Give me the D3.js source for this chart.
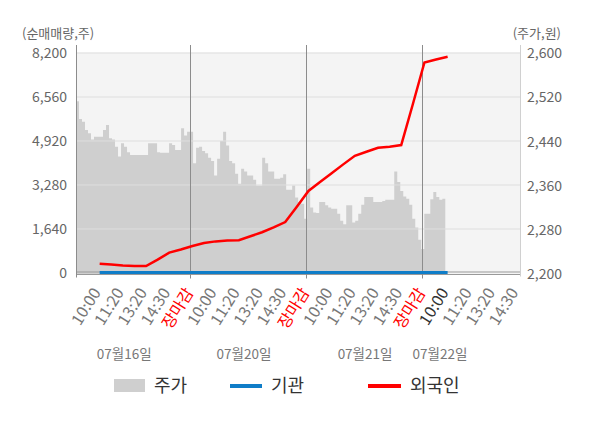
<!DOCTYPE html>
<html>
<head>
<meta charset="utf-8">
<script src="https://cdn.jsdelivr.net/npm/d3@7"></script>
<style>
  body { margin: 0; background: #fff; }
  text { font-family: "Noto Sans CJK KR", "Noto Sans", sans-serif; }
</style>
</head>
<body>
<div id="chart"></div>
<script>
// tick labels on the x axis, one per slot (slot 1 .. 19)
const timeLabels = [
  "10:00", "11:20", "13:20", "14:30", "장마감",
  "10:00", "11:20", "13:20", "14:30", "장마감",
  "10:00", "11:20", "13:20", "14:30", "장마감",
  "10:00", "11:20", "13:20", "14:30"
];
const currentLabel = 15;
const dayLabels = ["07월16일", "07월20일", "07월21일", "07월22일"];
const daySlots = [2.16, 7.32, 12.54, 15.77];
const dayBreaks = [5, 10, 15];

const leftTicks = [0, 1640, 3280, 4920, 6560, 8200];
const rightTicks = [2200, 2280, 2360, 2440, 2520, 2600];

// 주가 (won), evenly sampled from slot 0.08 to slot 16
const price = [
  2512, 2480, 2475, 2460, 2454, 2443, 2448, 2448, 2448, 2460,
  2469, 2445, 2443, 2430, 2412, 2436, 2430, 2420, 2415, 2415,
  2415, 2415, 2415, 2415, 2436, 2436, 2436, 2420, 2419, 2419,
  2419, 2436, 2433, 2424, 2424, 2463, 2450, 2457, 2457, 2400,
  2428, 2430, 2422, 2418, 2410, 2404, 2378, 2408, 2440, 2457,
  2432, 2404, 2400, 2381, 2363, 2390, 2385, 2378, 2378, 2370,
  2360, 2360, 2410, 2400, 2385, 2385, 2372, 2372, 2374, 2380,
  2352, 2352, 2360, 2338, 2330, 2327, 2300, 2390, 2320, 2311,
  2310, 2330, 2330, 2324, 2320, 2318, 2318, 2309, 2296, 2290,
  2324, 2324, 2293, 2296, 2309, 2325, 2339, 2339, 2339, 2330,
  2330, 2330, 2332, 2334, 2334, 2334, 2385, 2366, 2350, 2340,
  2336, 2325, 2300, 2284, 2262, 2245, 2309, 2309, 2335, 2348,
  2339, 2334, 2336, 2338
];
const priceStart = 0.08, priceEnd = 16;

// 순매매량 (shares), every half slot from slot 1.1 to 16.1
const foreign = [
  324, 300, 265, 240, 238, 480, 740, 857, 990, 1100,
  1160, 1190, 1204, 1350, 1500, 1680, 1880, 2450, 3040, 3370,
  3700, 4030, 4350, 4500, 4647, 4690, 4750, 6270, 7830, 7940,
  8040
];
const institution = [
  0, 0, 0, 0, 0, 0, 0, 0, 0, 0,
  0, 0, 0, 0, 0, 0, 0, 0, 0, 0,
  0, 0, 0, 0, 0, 0, 0, 0, 0, 0,
  0
];
const flowStart = 1.1, flowStep = 0.5;

const width = 600, height = 428;
const plotLeft = 76, plotRight = 520, plotTop = 52.5, plotBottom = 272.5;

const svg = d3.select("#chart").append("svg")
  .attr("width", width)
  .attr("height", height);

const x = d3.scaleLinear().domain([0.08, 19.22]).range([plotLeft, plotRight]);
const yL = d3.scaleLinear().domain([0, 8200]).range([plotBottom, plotTop]);
const yR = d3.scaleLinear().domain([2200, 2600]).range([plotBottom + 1.5, plotTop]);

svg.append("rect")
  .attr("x", plotLeft).attr("y", plotTop)
  .attr("width", plotRight - plotLeft).attr("height", plotBottom - plotTop + 1.5)
  .attr("fill", "#f4f4f4");

// price area
const priceSlot = i => priceStart + i * (priceEnd - priceStart) / (price.length - 1);
svg.append("path")
  .datum(price)
  .attr("fill", "#cfcfcf")
  .attr("d", d3.area()
    .curve(d3.curveStepAfter)
    .x((d, i) => x(priceSlot(i)))
    .y0(yR(2200))
    .y1(d => yR(d)));

// horizontal grid
svg.append("g")
  .selectAll("line")
  .data(leftTicks.slice(1))
  .join("line")
    .attr("x1", plotLeft).attr("x2", plotRight)
    .attr("y1", d => yL(d) + 0.5).attr("y2", d => yL(d) + 0.5)
    .attr("stroke", "#dedede");

svg.append("line")
  .attr("x1", plotLeft).attr("x2", plotRight)
  .attr("y1", yL(0) - 0.5).attr("y2", yL(0) - 0.5)
  .attr("stroke", "#999");
svg.append("line")
  .attr("x1", plotLeft).attr("x2", plotRight)
  .attr("y1", yR(2200) + 0.5).attr("y2", yR(2200) + 0.5)
  .attr("stroke", "#999");

// day separators
svg.append("g")
  .selectAll("line")
  .data(dayBreaks)
  .join("line")
    .attr("x1", d => Math.round(x(d)) + 0.5).attr("x2", d => Math.round(x(d)) + 0.5)
    .attr("y1", 45).attr("y2", plotBottom + 6)
    .attr("stroke", "#8c8c8c");

svg.append("line")
  .attr("x1", plotLeft + 0.5).attr("x2", plotLeft + 0.5)
  .attr("y1", 45).attr("y2", plotBottom + 5)
  .attr("stroke", "#8c8c8c");
svg.append("line")
  .attr("x1", plotRight + 0.5).attr("x2", plotRight + 0.5)
  .attr("y1", 45).attr("y2", plotBottom + 4)
  .attr("stroke", "#d0d0d0");

// flows
const flowLine = d3.line()
  .x((d, i) => x(flowStart + i * flowStep))
  .y(d => yL(d));

svg.append("path")
  .datum(institution)
  .attr("fill", "none")
  .attr("stroke", "#0f7dc8")
  .attr("stroke-width", 3)
  .attr("d", flowLine);

svg.append("path")
  .datum(foreign)
  .attr("fill", "none")
  .attr("stroke", "#ff0000")
  .attr("stroke-width", 2.5)
  .attr("d", flowLine);

// y axes labels
svg.append("g")
  .selectAll("text")
  .data(leftTicks)
  .join("text")
    .attr("x", 67)
    .attr("y", d => yL(d) + 1)
    .attr("dy", "0.35em")
    .attr("text-anchor", "end")
    .attr("font-size", 14)
    .attr("fill", "#666")
    .text(d => d3.format(",")(d));

svg.append("g")
  .selectAll("text")
  .data(rightTicks)
  .join("text")
    .attr("x", 527)
    .attr("y", d => yR(d) + 0.5)
    .attr("dy", "0.35em")
    .attr("font-size", 14)
    .attr("fill", "#666")
    .text(d => d3.format(",")(d));

svg.append("text")
  .attr("x", 22).attr("y", 38)
  .attr("font-size", 13)
  .attr("fill", "#666")
  .text("(순매매량,주)");

svg.append("text")
  .attr("x", 561).attr("y", 38)
  .attr("text-anchor", "end")
  .attr("font-size", 13)
  .attr("fill", "#666")
  .text("(주가,원)");

// x labels
svg.append("g")
  .selectAll("text")
  .data(timeLabels)
  .join("text")
    .attr("transform", (d, i) => `translate(${x(i + 1) + 4},${plotBottom + 20}) rotate(-58)`)
    .attr("text-anchor", "end")
    .attr("font-size", 16)
    .attr("fill", (d, i) => d === "장마감" ? "#ff0000" : i === currentLabel ? "#333" : "#777")
    .text(d => d);

svg.append("g")
  .selectAll("text")
  .data(dayLabels)
  .join("text")
    .attr("x", (d, i) => x(daySlots[i]))
    .attr("y", 359)
    .attr("text-anchor", "middle")
    .attr("font-size", 13.5)
    .attr("fill", "#777")
    .text(d => d);

// legend
const legend = svg.append("g").attr("transform", "translate(0,386)");
legend.append("rect")
  .attr("x", 114).attr("y", -7)
  .attr("width", 31).attr("height", 13)
  .attr("fill", "#cfcfcf");
legend.append("text").attr("x", 154).attr("y", 0).attr("dy", "0.35em")
  .attr("font-size", 18).attr("fill", "#333").text("주가");
legend.append("line")
  .attr("x1", 230).attr("x2", 262).attr("y1", 0).attr("y2", 0)
  .attr("stroke", "#0f7dc8").attr("stroke-width", 4);
legend.append("text").attr("x", 271).attr("y", 0).attr("dy", "0.35em")
  .attr("font-size", 18).attr("fill", "#333").text("기관");
legend.append("line")
  .attr("x1", 368).attr("x2", 401).attr("y1", 0).attr("y2", 0)
  .attr("stroke", "#ff0000").attr("stroke-width", 4);
legend.append("text").attr("x", 410).attr("y", 0).attr("dy", "0.35em")
  .attr("font-size", 18).attr("fill", "#333").text("외국인");
</script>
</body>
</html>
